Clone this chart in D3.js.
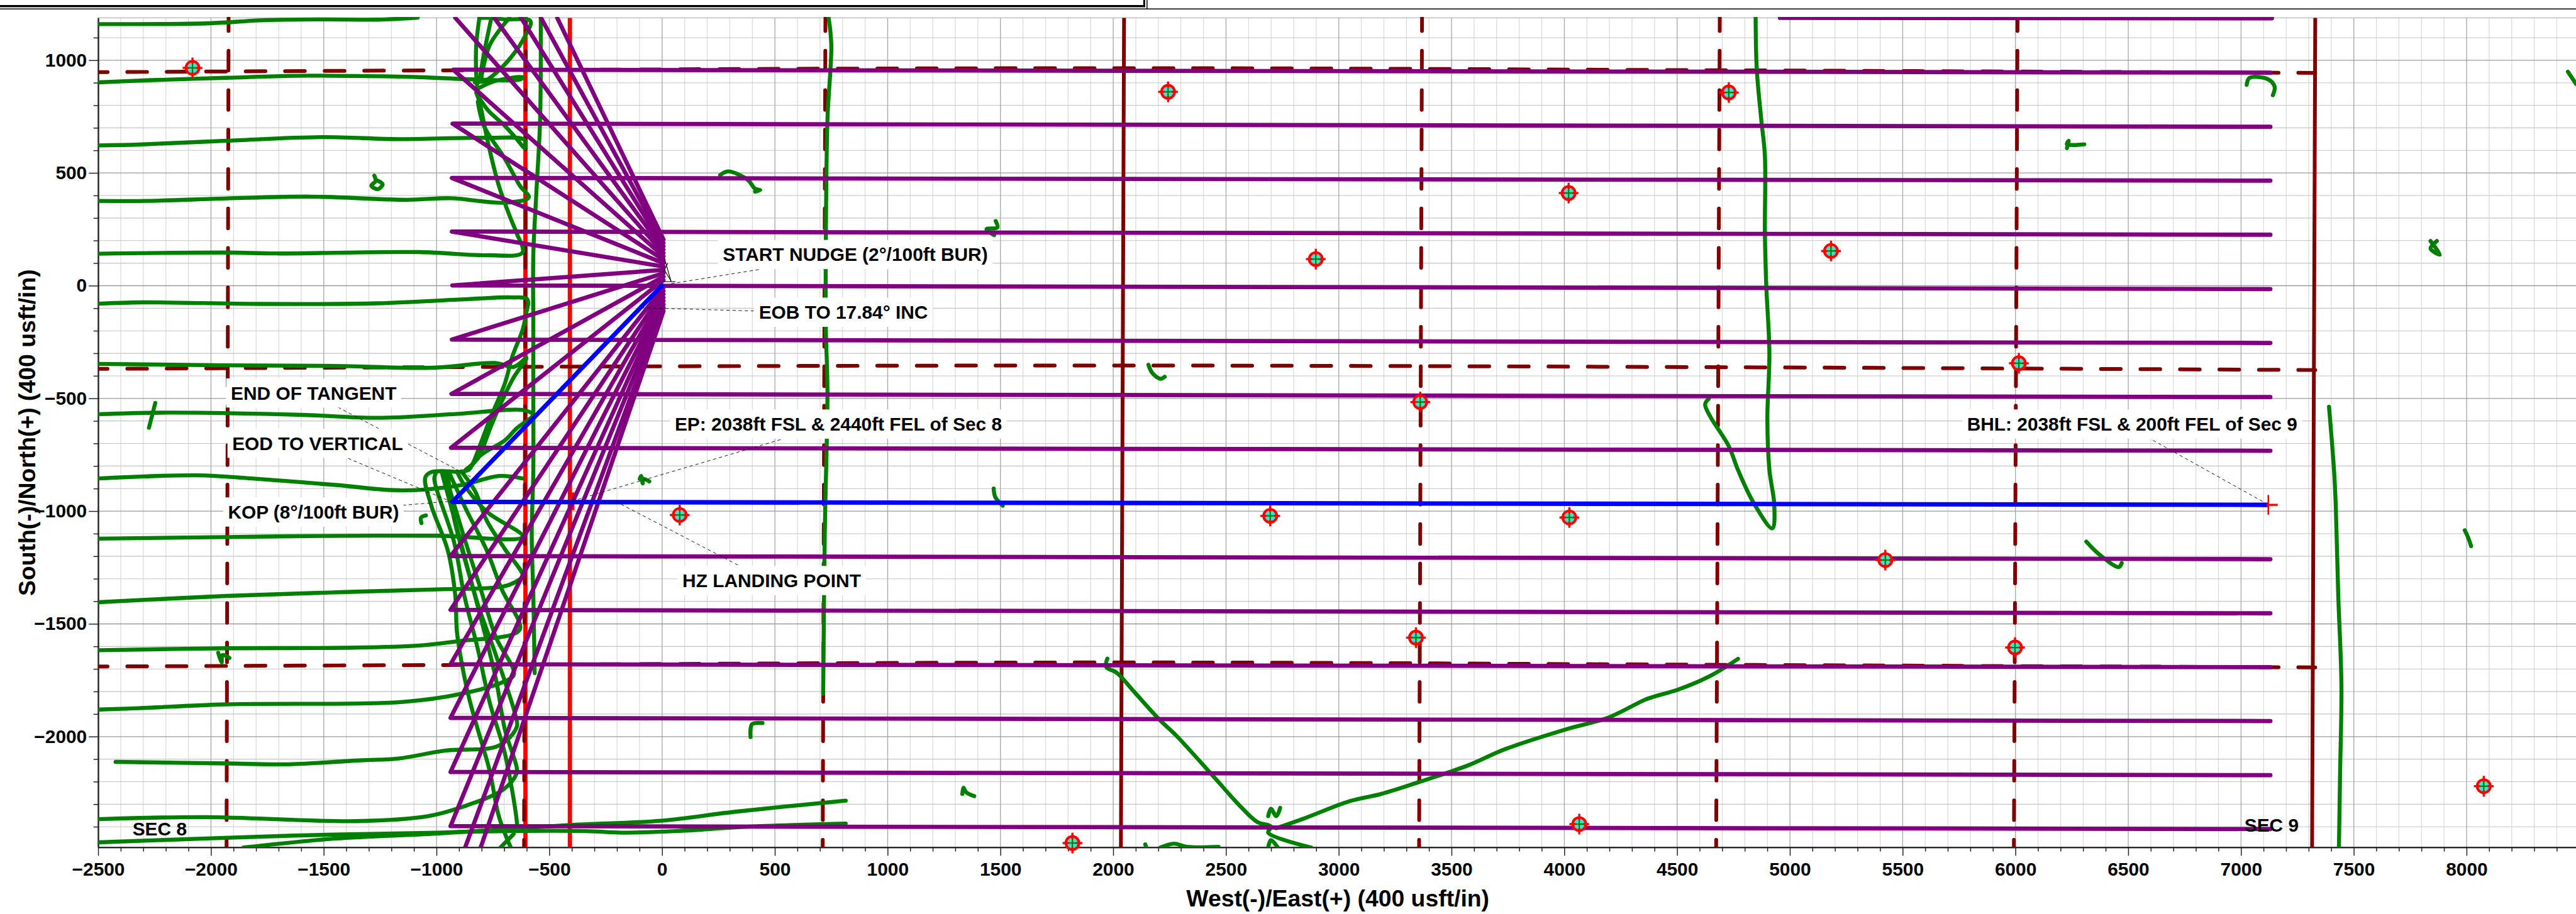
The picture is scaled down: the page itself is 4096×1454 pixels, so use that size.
<!DOCTYPE html>
<html>
<head>
<meta charset="utf-8">
<script src="https://cdn.jsdelivr.net/npm/d3@7"></script>
<style>
  html, body { margin: 0; padding: 0; background: #fff; }
  text { font-family: "Liberation Sans", Arial, sans-serif; font-weight: bold; fill: #000; }
</style>
</head>
<body>
<div id="chart"></div>
<script>
// axis labels
const xTickLabels = [-2500,-2000,-1500,-1000,-500,0,500,1000,1500,2000,2500,3000,3500,4000,4500,5000,5500,6000,6500,7000,7500,8000];
const yTickLabels = [1000,500,0,-500,-1000,-1500,-2000];

// section lines, west/east and north/south
const sectionDashV = [[-1922,-1931],[-604,-612],[724,712],[3369,3356],[4689,4673],[6009,5993]];
const sectionSolidV = [[2048,2034],[7329,7315]];
const sectionDash1 = [[-2500,947],[-1000,955],[2048,965],[4800,955],[7329,944]];
const sectionDash2 = [[-2500,-369],[-400,-359],[2048,-354],[4800,-362],[7329,-374]];
const sectionDash3 = [[-2500,-1689],[-850,-1682],[2048,-1671],[4800,-1682],[7329,-1693]];

// hardlines
const hardlineX = [-606,-409];
const redStubs = [[[-930,-962],[-930,-996]],[[-399,-917],[-399,-996]]];

// planned laterals: left end x, y at left end, y at right end
const latLeftX = [-926,-929,-932,-932,-930,-932,-934,-936,-938,-938,-938,-938,-938,-938];
const latLeftY = [958,719,478,240,1,-239,-480,-719,-1199,-1438,-1679,-1917,-2157,-2397];
const latRightY = [945,705,466,226,-15,-254,-494,-732,-1213,-1453,-1692,-1931,-2171,-2410];
const latRightX = 7130;
const latTop = [[4956,1188],[7137,1186]];

// surface spots in the fan at the well pad
const fanX = 6;
const fanY = [205,190,175,160,145,130,115,100,85,70,55,40,25,-8,-23,-38,-53,-68,-83,-98,-113];
const fanEndsTop = [[-465,1188],[-537,1188],[-625,1188],[-744,1188],[-917,1188]];
const fanEndsBottom = [[-873,-2491],[-804,-2491]];

const plannedWell = [[6,8],[-930,-959],[7121,-972]];

// offset wells, all survey points
const offsetTop0 = [[-2498,1160],[-2005,1164],[-1782,1177],[-1503,1181],[-1261,1180],[-1084,1189]];
const offset1 = [[-2498,902],[-2284,911],[-1931,922],[-1633,931],[-1354,930],[-1075,925],[-833,915],[-628,915],[-618,925],[-737,909],[-810,878]];
const offset2 = [[-2498,622],[-2321,626],[-1931,643],[-1503,659],[-1168,650],[-777,656],[-610,646],[-608,610],[-644,650],[-697,709],[-770,776],[-817,842]];
const offset3 = [[-2498,376],[-2284,376],[-1931,387],[-1559,395],[-1131,381],[-935,388],[-703,368],[-591,391],[-631,444],[-697,563],[-790,709],[-817,816]];
const offset4 = [[-2498,142],[-1931,147],[-1707,143],[-1075,149],[-777,135],[-619,147],[-644,231],[-671,297],[-724,444],[-771,630],[-810,816],[-824,856]];
const offset5 = [[-2498,-80],[-2303,-74],[-1782,-81],[-1261,-78],[-852,-59],[-666,-52],[-597,-61],[-604,-128],[-618,-194],[-664,-314],[-697,-433],[-764,-593],[-804,-699],[-857,-816],[-890,-824]];
const offset6 = [[-2498,-347],[-1931,-353],[-1447,-356],[-1019,-364],[-740,-343],[-657,-360],[-601,-320],[-658,-407],[-711,-513],[-757,-619],[-817,-765],[-870,-816]];
const offset7 = [[-2498,-570],[-2191,-563],[-1596,-573],[-1261,-586],[-926,-570],[-610,-553],[-573,-573],[-644,-632],[-697,-686],[-804,-752],[-857,-816]];
const offset8 = [[-2498,-855],[-2061,-841],[-1819,-855],[-1447,-884],[-1149,-908],[-889,-884],[-722,-844],[-619,-855]];
const offset9 = [[-884,-828],[-1023,-827],[-1050,-851],[-1023,-976],[-950,-1175],[-917,-1374],[-910,-1532],[-890,-1665],[-857,-1824],[-817,-1969],[-764,-2154],[-724,-2353],[-671,-2492]];
const offset10 = [[-1003,-831],[-1010,-857],[-923,-1135],[-877,-1374],[-817,-1612],[-764,-1850],[-697,-2075],[-644,-2379],[-644,-2406]];
const offset11 = [[-2423,-2112],[-1931,-2119],[-1670,-2123],[-1335,-2105],[-1168,-2097],[-963,-2062],[-724,-2040],[-644,-1956],[-651,-1903],[-737,-1638],[-817,-1413],[-897,-1122],[-976,-831]];
const offset12 = [[-2498,-1880],[-2321,-1874],[-1931,-1857],[-1149,-1846],[-889,-1810],[-703,-1757],[-657,-1724],[-737,-1559],[-804,-1347],[-884,-1096],[-963,-831]];
const offset13 = [[-2498,-1617],[-1931,-1608],[-1410,-1606],[-1075,-1596],[-889,-1575],[-666,-1548],[-629,-1519],[-711,-1347],[-777,-1175],[-870,-990],[-943,-831]];
const offset14 = [[-2498,-1404],[-1931,-1376],[-1447,-1360],[-999,-1347],[-703,-1334],[-638,-1307],[-618,-1287],[-697,-1168],[-777,-1043],[-830,-910],[-890,-824]];
const offset15 = [[-2498,-1122],[-1931,-1115],[-1503,-1110],[-999,-1109],[-619,-1113],[-777,-1003],[-877,-884],[-910,-824]];
const offset16 = [[-2498,-2366],[-2024,-2357],[-1354,-2375],[-1038,-2353],[-889,-2313],[-703,-2234],[-647,-2168],[-644,-2141],[-697,-1969],[-737,-1744],[-830,-1374],[-923,-1029],[-950,-831]];
const offset17 = [[-2498,-2469],[-1633,-2439],[-999,-2426],[-870,-2422],[-339,-2419],[-179,-2426],[60,-2419],[392,-2399],[814,-2386]];
const offset18 = [[-1856,-2492],[-1447,-2452],[-999,-2430],[-418,-2393],[-6,-2373],[326,-2333],[814,-2284]];
const offset19 = [[-717,-2492],[-658,-2432]];
const offset20 = [[-810,1188],[-757,1188],[-697,1181],[-584,1174],[-611,1101],[-658,1028],[-724,955],[-784,909],[-830,902]];
const offset21 = [[-810,1188],[-824,1068],[-824,935],[-817,856]];
const offset22 = [[-757,1188],[-790,1028],[-810,909]];
const offset23 = [[-677,1188],[-764,1068],[-804,909]];
const offset24 = [[-538,1190],[-541,736],[-558,404],[-571,138],[-571,-194],[-571,-460],[-571,-816],[-578,-1109],[-571,-1374],[-565,-1718]];
const offset25 = [[738,1190],[750,1068],[733,736],[726,204],[726,-194],[733,-460],[721,-1109],[714,-1810]];
const offset26 = [[1974,-1654],[1969,-1691],[2017,-1718],[2089,-1797],[2209,-1929],[2280,-1996],[2448,-2181],[2567,-2313],[2639,-2379],[2699,-2399],[2687,-2426],[2878,-2492]];
const offset27 = [[2723,-2406],[2854,-2360],[3046,-2287],[3189,-2254],[3357,-2201],[3572,-2128],[3739,-2055],[4003,-1969],[4194,-1916],[4356,-1837],[4397,-1823],[4508,-1790],[4646,-1731],[4770,-1655]];
const offset28 = [[4848,1190],[4853,962],[4873,736],[4889,577],[4889,231],[4895,5],[4909,-300],[4900,-593],[4909,-816],[4931,-976],[4922,-1076],[4839,-963],[4770,-818],[4729,-712],[4646,-579],[4624,-526],[4640,-502]];
const offset29 = [[7390,-537],[7412,-816],[7420,-976],[7431,-1373],[7445,-1771],[7439,-2168],[7434,-2492]];

// little scraps of offset surveys
const scraps = [
  [[-1276,488],[-1270,464],[-1289,444],[-1261,428],[-1239,450],[-1270,470]],
  [[-2247,-520],[-2275,-630]],
  [[-1047,-1019],[-1069,-1029],[-1067,-1053]],
  [[-1968,-1628],[-1953,-1671],[-1949,-1638],[-1918,-1651]],
  [[257,490],[292,507],[379,470],[412,430],[435,424],[412,417]],
  [[-99,-857],[-93,-844],[-86,-877],[-84,-857],[-57,-868]],
  [[445,-1940],[399,-1945],[392,-2002]],
  [[1479,287],[1486,258],[1438,251],[1472,224]],
  [[2156,-351],[2173,-387],[2209,-413],[2228,-404]],
  [[1470,-900],[1477,-937],[1510,-976]],
  [[1331,-2254],[1336,-2227],[1348,-2247],[1384,-2264]],
  [[2209,-2492],[2269,-2475],[2328,-2489],[2467,-2489]],
  [[2142,-2478],[2146,-2490]],
  [[2687,-2353],[2699,-2320],[2723,-2353],[2740,-2316]],
  [[2687,-2492],[2699,-2459],[2730,-2492]],
  [[7025,891],[7038,922],[7121,915],[7149,882],[7141,845]],
  [[6228,610],[6236,643],[6228,627],[6305,627]],
  [[7840,198],[7882,138],[7840,165],[7868,198]],
  [[8449,949],[8485,895]],
  [[6314,-1135],[6375,-1195],[6458,-1248],[6471,-1230]],
  [[7992,-1085],[8006,-1115],[8020,-1155]]
];

// target markers
const targetX = [-2082,2243,4019,2898,3361,78,2696,4022,3342,1819,4066,4729,5182,6015,5423,5998,8076];
const targetY = [966,860,411,118,-516,-1017,-1021,-1028,-1561,-2472,-2388,857,154,-344,-1217,-1605,-2220];

// wellhead scribble and the label leaders
const wellhead = [[[10,122],[40,18]],[[6,18],[60,18]],[[10,70],[40,20]],[[6,60],[25,100]]];
const leaders = [
  [[40,9],[431,72]],
  [[-94,-98],[406,-112]],
  [[-1437,-539],[-831,-857]],
  [[-1392,-766],[-935,-958]],
  [[-1177,-976],[-935,-956]],
  [[-398,-955],[537,-679]],
  [[-206,-957],[340,-1241]],
  [[6610,-686],[7108,-964]]
];

const labelText = ["START NUDGE (2°/100ft BUR)","EOB TO 17.84° INC","EP: 2038ft FSL & 2440ft FEL of Sec 8","HZ LANDING POINT","END OF TANGENT","EOD TO VERTICAL","KOP (8°/100ft BUR)","BHL: 2038ft FSL & 200ft FEL of Sec 9"];
const labelX = [269,429,56,90,-1912,-1906,-1925,5785];
const labelY = [109,-147,-643,-1337,-505,-728,-1033,-643];
const secText = ["SEC 8","SEC 9"];
const secX = [-2348,7015];
const secY = [-2439,-2422];

const width = 5482, height = 1946;
const plot = {left: 209, right: 5482, top: 38, bottom: 1804};

const xScale = d3.scaleLinear().domain([-2500, 8485]).range([plot.left, plot.right]);
const yScale = d3.scaleLinear().domain([1188, -2491]).range([plot.top, plot.bottom]);

const svg = d3.select("#chart").append("svg")
  .attr("width", 4096)
  .attr("height", 1454)
  .attr("viewBox", `0 0 ${width} ${height}`)
  .style("display", "block");

svg.append("defs").append("clipPath").attr("id", "plotClip")
  .append("rect")
  .attr("x", plot.left).attr("y", plot.top - 2)
  .attr("width", plot.right - plot.left).attr("height", plot.bottom - plot.top + 2);

// title block remains at the top of the sheet
svg.append("line").attr("x1", 0).attr("x2", 2437).attr("y1", 13).attr("y2", 13).attr("stroke", "#000").attr("stroke-width", 4.5);
svg.append("line").attr("x1", 0).attr("x2", width).attr("y1", 19).attr("y2", 19).attr("stroke", "#000").attr("stroke-width", 2);
svg.append("line").attr("x1", 2435).attr("x2", 2435).attr("y1", 0).attr("y2", 15).attr("stroke", "#000").attr("stroke-width", 4);
svg.append("line").attr("x1", 2441).attr("x2", 2441).attr("y1", 0).attr("y2", 19).attr("stroke", "#000").attr("stroke-width", 2);

// grid
const xMinor = d3.range(-2500, 8485, 100);
const yMinor = d3.range(-2400, 1188, 100);
const grid = svg.append("g").attr("class", "grid");
grid.selectAll(".vMinor").data(xMinor.filter(d => d % 500 != 0)).enter().append("line")
  .attr("x1", d => xScale(d)).attr("x2", d => xScale(d))
  .attr("y1", plot.top).attr("y2", plot.bottom)
  .attr("stroke", "#d6d6d6").attr("stroke-width", 1.5);
grid.selectAll(".hMinor").data(yMinor.filter(d => d % 500 != 0)).enter().append("line")
  .attr("x1", plot.left).attr("x2", plot.right)
  .attr("y1", d => yScale(d)).attr("y2", d => yScale(d))
  .attr("stroke", "#c4c4c4").attr("stroke-width", 1.5);
grid.selectAll(".vMajor").data(xTickLabels).enter().append("line")
  .attr("x1", d => xScale(d)).attr("x2", d => xScale(d))
  .attr("y1", plot.top).attr("y2", plot.bottom)
  .attr("stroke", "#a8a8a8").attr("stroke-width", 1.8);
grid.selectAll(".hMajor").data(yTickLabels).enter().append("line")
  .attr("x1", plot.left).attr("x2", plot.right)
  .attr("y1", d => yScale(d)).attr("y2", d => yScale(d))
  .attr("stroke", "#9a9a9a").attr("stroke-width", 1.8);
grid.append("line").attr("x1", plot.left).attr("x2", plot.right)
  .attr("y1", plot.top).attr("y2", plot.top).attr("stroke", "#b4b4b4").attr("stroke-width", 1.5);

// axes
const axisStyle = g => {
  g.selectAll("path").attr("stroke", "#222").attr("stroke-width", 2.5);
  g.selectAll("line").attr("stroke", "#222").attr("stroke-width", 2);
  g.selectAll("text").attr("font-size", 40).attr("fill", "#000")
    .style("font-family", '"Liberation Sans", Arial, sans-serif').style("font-weight", "bold");
};
svg.append("g").attr("transform", `translate(0,${plot.bottom})`)
  .call(d3.axisBottom(xScale).tickValues(xMinor.filter(d => d % 500 != 0)).tickSize(9).tickSizeOuter(0).tickFormat(""))
  .call(axisStyle);
svg.append("g").attr("transform", `translate(${plot.left},0)`)
  .call(d3.axisLeft(yScale).tickValues(yMinor.filter(d => d % 500 != 0)).tickSize(10).tickSizeOuter(0).tickFormat(""))
  .call(axisStyle);
const xAxisG = svg.append("g").attr("transform", `translate(0,${plot.bottom})`)
  .call(d3.axisBottom(xScale).tickValues(xTickLabels).tickSize(18).tickSizeOuter(0).tickPadding(14).tickFormat(d3.format("d")))
  .call(axisStyle);
const yAxisG = svg.append("g").attr("transform", `translate(${plot.left},0)`)
  .call(d3.axisLeft(yScale).tickValues(yTickLabels).tickSize(20).tickSizeOuter(0).tickPadding(4).tickFormat(d3.format("d")))
  .call(axisStyle);

svg.append("text").attr("x", 2847).attr("y", 1930).attr("text-anchor", "middle")
  .attr("font-size", 50).text("West(-)/East(+) (400 usft/in)");
svg.append("text").attr("transform", "translate(75,921) rotate(-90)").attr("text-anchor", "middle")
  .attr("font-size", 50).text("South(-)/North(+) (400 usft/in)");

const marks = svg.append("g").attr("clip-path", "url(#plotClip)");
const straight = d3.line().x(d => xScale(d[0])).y(d => yScale(d[1]));
const smooth = d3.line().x(d => xScale(d[0])).y(d => yScale(d[1])).curve(d3.curveCatmullRom.alpha(0.5));

// hardlines go under the section lines
marks.selectAll(".hardline").data(hardlineX).enter().append("line")
  .attr("x1", d => xScale(d)).attr("x2", d => xScale(d))
  .attr("y1", plot.top).attr("y2", plot.bottom)
  .attr("stroke", "#ff0000").attr("stroke-width", 9);
marks.selectAll(".stub").data(redStubs).enter().append("path")
  .attr("d", straight).attr("fill", "none")
  .attr("stroke", "#ff0000").attr("stroke-width", 10);

const dashStyle = s => s.attr("fill", "none").attr("stroke", "#800000").attr("stroke-width", 8)
  .attr("stroke-linecap", "round").attr("stroke-dasharray", "42 42");

marks.selectAll(".secV").data(sectionDashV).enter().append("line")
  .attr("x1", d => xScale(d[0])).attr("x2", d => xScale(d[1]))
  .attr("y1", plot.top).attr("y2", plot.bottom)
  .call(dashStyle).attr("stroke-dashoffset", 14);
marks.selectAll(".secH").data([sectionDash1, sectionDash2, sectionDash3]).enter().append("path")
  .attr("d", smooth).call(dashStyle).attr("stroke-dashoffset", 22);
marks.selectAll(".secSolid").data(sectionSolidV).enter().append("line")
  .attr("x1", d => xScale(d[0])).attr("x2", d => xScale(d[1]))
  .attr("y1", plot.top).attr("y2", plot.bottom)
  .attr("stroke", "#800000").attr("stroke-width", 8);

// offset wells
const offsets = [offsetTop0,offset1,offset2,offset3,offset4,offset5,offset6,offset7,offset8,offset9,offset10,
  offset11,offset12,offset13,offset14,offset15,offset16,offset17,offset18,offset19,offset20,offset21,offset22,
  offset23,offset24,offset25,offset26,offset27,offset28,offset29];
marks.selectAll(".offset").data(offsets).enter().append("path")
  .attr("d", smooth).attr("fill", "none")
  .attr("stroke", "#008000").attr("stroke-width", 8.5)
  .attr("stroke-linecap", "round").attr("stroke-linejoin", "round");
marks.selectAll(".scrap").data(scraps).enter().append("path")
  .attr("d", smooth).attr("fill", "none")
  .attr("stroke", "#008000").attr("stroke-width", 8.5)
  .attr("stroke-linecap", "round").attr("stroke-linejoin", "round");

// planned wells: 5 run off the top, 8 to the laterals above the blue one, 6 + 2 below
const planned = [];
const lateralRows = latLeftY.map((d, i) => [[latLeftX[i], d], [latRightX, latRightY[i]]]);
fanEndsTop.forEach((end, i) => planned.push([[fanX, fanY[i]], end]));
lateralRows.forEach((row, i) => planned.push([[fanX, fanY[i + 5]], row[0], row[1]]));
fanEndsBottom.forEach((end, i) => planned.push([[fanX, fanY[19 + i]], end]));
planned.push(latTop);

marks.selectAll(".planned").data(planned).enter().append("path")
  .attr("d", straight).attr("fill", "none")
  .attr("stroke", "#800080").attr("stroke-width", 9)
  .attr("stroke-linecap", "round").attr("stroke-linejoin", "round");
marks.append("path").datum(plannedWell)
  .attr("d", straight).attr("fill", "none")
  .attr("stroke", "#0000ff").attr("stroke-width", 9.5)
  .attr("stroke-linejoin", "round");

// BHL cross
const bhl = plannedWell[2];
marks.append("line").attr("x1", xScale(bhl[0]) - 4).attr("x2", xScale(bhl[0]) + 20)
  .attr("y1", yScale(bhl[1])).attr("y2", yScale(bhl[1])).attr("stroke", "#ff0000").attr("stroke-width", 4.5);
marks.append("line").attr("x1", xScale(bhl[0])).attr("x2", xScale(bhl[0]))
  .attr("y1", yScale(bhl[1]) - 21).attr("y2", yScale(bhl[1]) + 21).attr("stroke", "#ff0000").attr("stroke-width", 3.5);

// targets
const targets = svg.append("g").selectAll("g").data(targetX).enter().append("g")
  .attr("transform", (d, i) => `translate(${xScale(d)},${yScale(targetY[i])})`);
targets.append("circle").attr("r", 14).attr("fill", "#40e0d0").attr("stroke", "#ff0000").attr("stroke-width", 5.5);
targets.append("line").attr("x1", 0).attr("x2", 0).attr("y1", -11).attr("y2", 11).attr("stroke", "#008000").attr("stroke-width", 3);
targets.append("line").attr("x1", -11).attr("x2", 11).attr("y1", 0).attr("y2", 0).attr("stroke", "#008000").attr("stroke-width", 3);
targets.append("line").attr("x1", -21).attr("x2", -8).attr("y1", 0).attr("y2", 0).attr("stroke", "#ff0000").attr("stroke-width", 4.5);
targets.append("line").attr("x1", 8).attr("x2", 21).attr("y1", 0).attr("y2", 0).attr("stroke", "#ff0000").attr("stroke-width", 4.5);
targets.append("line").attr("x1", 0).attr("x2", 0).attr("y1", -22).attr("y2", -9).attr("stroke", "#ff0000").attr("stroke-width", 4.5);
targets.append("line").attr("x1", 0).attr("x2", 0).attr("y1", 9).attr("y2", 22).attr("stroke", "#ff0000").attr("stroke-width", 4.5);

// wellhead
svg.append("g").selectAll("path").data(wellhead).enter().append("path")
  .attr("d", straight).attr("fill", "none").attr("stroke", "#000").attr("stroke-width", 1.5);

// leaders
svg.append("g").selectAll("path").data(leaders).enter().append("path")
  .attr("d", straight).attr("fill", "none").attr("stroke", "#000")
  .attr("stroke-width", 1.2).attr("stroke-dasharray", "7 6");

// labels with their white boxes
const labels = svg.append("g").selectAll("g").data(labelText).enter().append("g");
const labelTexts = labels.append("text")
  .attr("x", (d, i) => xScale(labelX[i]))
  .attr("y", (d, i) => yScale(labelY[i]))
  .attr("font-size", 40)
  .text(d => d);
labelTexts.each(function() {
  const box = this.getBBox();
  d3.select(this.parentNode).insert("rect", "text")
    .attr("x", box.x - 10).attr("y", box.y - 9)
    .attr("width", box.width + 20).attr("height", box.height + 18)
    .attr("fill", "#fff");
});

svg.append("g").selectAll("text").data(secText).enter().append("text")
  .attr("x", (d, i) => xScale(secX[i]))
  .attr("y", (d, i) => yScale(secY[i]))
  .attr("font-size", 40)
  .text(d => d);
</script>
</body>
</html>
